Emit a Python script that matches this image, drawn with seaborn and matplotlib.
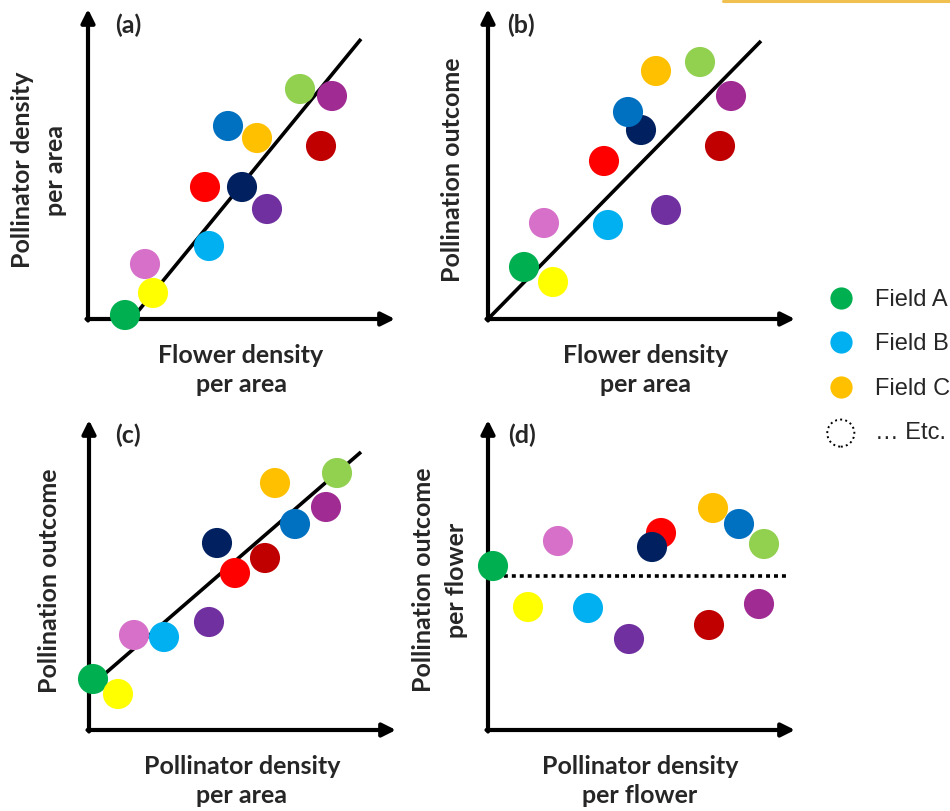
import numpy as np
import pandas as pd
import matplotlib
matplotlib.use('Agg')
import matplotlib.pyplot as plt
from matplotlib.lines import Line2D
import seaborn as sns

# fields and their colours (Office palette)
fields = ['Field A', 'Field B', 'Field C', 'Field D', 'Field E', 'Field F',
          'Field G', 'Field H', 'Field I', 'Field J', 'Field K', 'Field L']
colors = ['#00B050', '#00B0F0', '#FFC000', '#FFFF00', '#D670C8', '#FF0000',
          '#002060', '#7030A0', '#0070C0', '#92D050', '#A02B93', '#C00000']

# (a) flower density vs pollinator density per area
a_x = [37, 121, 169, 65, 57, 117, 154, 179, 140, 212, 244, 233]
a_y = [4, 73, 181, 26, 55, 132, 132, 110, 193, 230, 223, 173]
a_line = ([47, 273], [4, 280])
# (b) flower density vs pollination outcome
b_x = [36, 120, 168, 65, 56, 116, 153, 178, 140, 212, 243, 232]
b_y = [52, 94, 248, 37, 96, 158, 189, 109, 207, 257, 223, 173]
b_line = ([0, 273], [0, 278])
# (c) pollinator density per area vs pollination outcome
c_x = [4, 75, 186, 29, 45, 146, 128, 120, 206, 248, 237, 176]
c_y = [51, 93, 247, 36, 95, 157, 187, 108, 206, 257, 223, 172]
c_line = ([11, 272], [52, 278])
# (d) per flower: no relationship
d_x = [5, 100, 225, 40, 70, 173, 164, 141, 251, 276, 271, 221]
d_y = [164, 122, 222, 123, 189, 197, 183, 91, 206, 186, 126, 105]
d_line = ([0, 299], [154, 154])

W, H = 307, 310
FW, FH = 950, 811

sns.set_theme(style='white')
plt.rcParams['font.family'] = ['Lato', 'DejaVu Sans']

fig = plt.figure(figsize=(FW / 100, FH / 100), dpi=100)


def fx(x):
    return x / FW


def fy(y):
    return 1 - y / FH


panels = [
    ('(a)', (88, 319), a_x, a_y, a_line, '-',
     ['Flower density', 'per area'], ['Pollinator density', 'per area']),
    ('(b)', (488, 319), b_x, b_y, b_line, '-',
     ['Flower density', 'per area'], ['Pollination outcome']),
    ('(c)', (89, 730), c_x, c_y, c_line, '-',
     ['Pollinator density', 'per area'], ['Pollination outcome']),
    ('(d)', (488, 730), d_x, d_y, d_line, ':',
     ['Pollinator density', 'per flower'], ['Pollination outcome', 'per flower']),
]

label_pos = {
    '(a)': dict(tag=(128, 25), xl=(241, 370), yl=(39, 170)),
    '(b)': dict(tag=(521, 25), xl=(646, 370), yl=(452, 170)),
    '(c)': dict(tag=(128, 435), xl=(242, 781), yl=(50, 581)),
    '(d)': dict(tag=(522, 435), xl=(640, 781), yl=(440, 580)),
}

for tag, (ox, oy), xs, ys, line, ls, xlab, ylab in panels:
    ax = fig.add_axes([fx(ox), fy(oy), W / FW, H / FH])
    ax.set_xlim(0, W)
    ax.set_ylim(0, H)
    ax.axis('off')

    arrow = dict(arrowstyle='-|>', lw=3, color='black', mutation_scale=20,
                 shrinkA=0, shrinkB=0)
    ax.annotate('', xy=(W, 0), xytext=(-1.5, 0), arrowprops=arrow, zorder=1,
                annotation_clip=False)
    ax.annotate('', xy=(0, H), xytext=(0, -1.5), arrowprops=arrow, zorder=1,
                annotation_clip=False)

    if ls == ':':
        ax.plot(line[0], line[1], color='black', lw=2.6,
                linestyle=(0, (1.1, 1.1)), zorder=2, clip_on=False)
    else:
        ax.plot(line[0], line[1], color='black', lw=2.6, zorder=2,
                solid_capstyle='butt', clip_on=False)

    df = pd.DataFrame({'x': xs, 'y': ys, 'field': fields})
    sns.scatterplot(data=df, x='x', y='y', hue='field', palette=colors,
                    s=470, linewidth=0, legend=False, ax=ax, zorder=3,
                    clip_on=False)

    pos = label_pos[tag]
    fig.text(fx(pos['tag'][0]), fy(pos['tag'][1]), tag, ha='center',
             va='center', fontsize=18, fontweight='bold')
    fig.text(fx(pos['xl'][0]), fy(pos['xl'][1]), '\n'.join(xlab),
             ha='center', va='center', fontsize=18, fontweight='bold',
             linespacing=1.3, multialignment='center')
    fig.text(fx(pos['yl'][0]), fy(pos['yl'][1]), '\n'.join(ylab), ha='center',
             va='center', rotation=90, fontsize=18, fontweight='bold',
             linespacing=1.5, multialignment='center')

# legend
handles = [Line2D([], [], marker='o', linestyle='none', markersize=16,
                  markerfacecolor=c, markeredgewidth=0)
           for c in colors[:3]]
etc_ax = fig.add_axes([0, 0, 0.01, 0.01])
etc_ax.axis('off')
etc = etc_ax.scatter([], [], s=380, facecolor='white', edgecolor='black',
                     linestyle=':', linewidth=1.4)
handles.append(etc)
leg = fig.legend(handles, ['Field A', 'Field B', 'Field C', '\u2026 Etc.'],
                 loc='upper left', bbox_to_anchor=(fx(829), fy(289)),
                 frameon=False, borderpad=0, borderaxespad=0,
                 handlelength=1.0, handletextpad=0.95, labelspacing=0.95,
                 prop={'family': ['Liberation Sans', 'DejaVu Sans'], 'size': 17})

# thin yellow strip at the top right edge
fig.add_artist(Line2D([fx(723), 1], [fy(1.2), fy(1.2)], transform=fig.transFigure,
                      color='#F0C050', lw=2.2))

fig.savefig('out.png', dpi=100)
